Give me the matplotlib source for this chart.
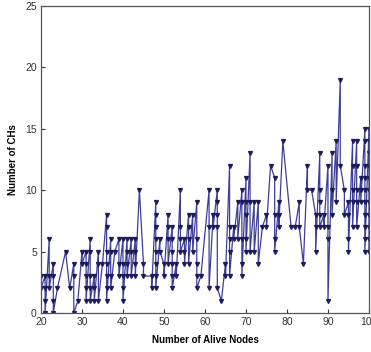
import numpy as np
import matplotlib
matplotlib.use('Agg')
import matplotlib.pyplot as plt

plt.rcParams['font.family'] = ['Liberation Sans', 'DejaVu Sans']

# number of alive nodes and the CH counts seen for each of them (in drawing order)
alive_nodes = [20, 21, 22, 23, 24, 26, 27, 28, 29, 30, 31, 32, 33, 34, 35, 36, 37, 38, 39, 40,
               41, 42, 43, 44, 45, 47, 48, 49, 50, 51, 52, 53, 54, 55, 56, 57, 58, 59, 61, 62,
               63, 64, 65, 66, 67, 68, 69, 70, 71, 72, 73, 74, 75, 76, 77, 78, 79, 81, 82, 83,
               84, 85, 86, 87, 88, 89, 90, 91, 92, 93, 94, 95, 96, 97, 98, 99, 100]
ch_counts = [[3, 2], [3, 2, 1, 0], [6, 3, 2], [4, 3, 1, 0], [2], [5], [2], [4, 3, 0], [1],
             [5, 4], [5, 4, 3, 2, 1], [6, 5, 3, 2, 1], [3, 2, 1], [5, 4, 1], [4],
             [8, 7, 5, 4, 3, 2, 1], [6, 5, 3, 2], [5], [6, 4, 3], [6, 4, 3, 2, 1],
             [6, 5, 4, 3], [6, 5, 3], [6, 5, 4, 3], [10], [4, 3], [3, 2],
             [9, 8, 7, 6, 5, 4, 3, 2], [6, 5], [4, 3], [8, 7, 6, 4], [7, 6, 5, 4, 3, 2],
             [4, 3], [10, 7, 6, 5], [6, 5, 4], [8, 7, 6, 4], [8, 5], [9, 6, 4, 3, 2], [3],
             [10, 7, 2], [8, 7], [10, 9, 8, 7, 2], [1], [4, 3], [12, 7, 6, 5, 3], [7, 6],
             [9, 6], [10, 9, 6, 4, 3], [11, 9, 8, 6, 5], [13, 9, 5], [9, 5], [9, 4], [7],
             [8, 7], [12], [11, 8, 6, 5], [9, 8, 7], [14], [7], [7], [9, 7], [4], [12, 10],
             [10], [8, 7, 5], [13, 10, 9, 8, 7], [8, 7], [12, 7, 6, 1], [13, 10, 8], [14, 9],
             [19, 12], [10, 8], [9, 8, 6, 5], [14, 12, 10, 9, 7], [14, 12, 10, 9, 7],
             [11, 10, 9], [15, 14, 12, 11, 10, 9, 8, 7, 6, 5],
             [15, 14, 13, 12, 11, 10, 9, 8, 7, 6, 5]]

x = []
y = []
for n, counts in zip(alive_nodes, ch_counts):
    for c in counts:
        x.append(n)
        y.append(c)

fig = plt.figure(figsize=(3.71, 3.52), dpi=100)
ax = fig.add_axes([0.1105, 0.111, 0.884, 0.872])
ax.plot(x, y, color='#3e3e98', linewidth=0.9, marker='v', markersize=2.8,
        markerfacecolor='#1c1c5c', markeredgecolor='#1c1c5c')

ax.set_xlim(20, 100)
ax.set_ylim(0, 25)
ax.set_xticks(np.arange(20, 101, 10))
ax.set_yticks(np.arange(0, 26, 5))
ax.tick_params(direction='in', length=3, labelsize=7.5, colors='#333333', pad=3)
for s in ax.spines.values():
    s.set_color('#555555')
    s.set_linewidth(0.9)

ax.set_xlabel('Number of Alive Nodes', fontsize=7, fontweight='bold', labelpad=6)
ax.set_ylabel('Number of CHs', fontsize=7, fontweight='bold', labelpad=5)

fig.savefig('out.png', dpi=100)
